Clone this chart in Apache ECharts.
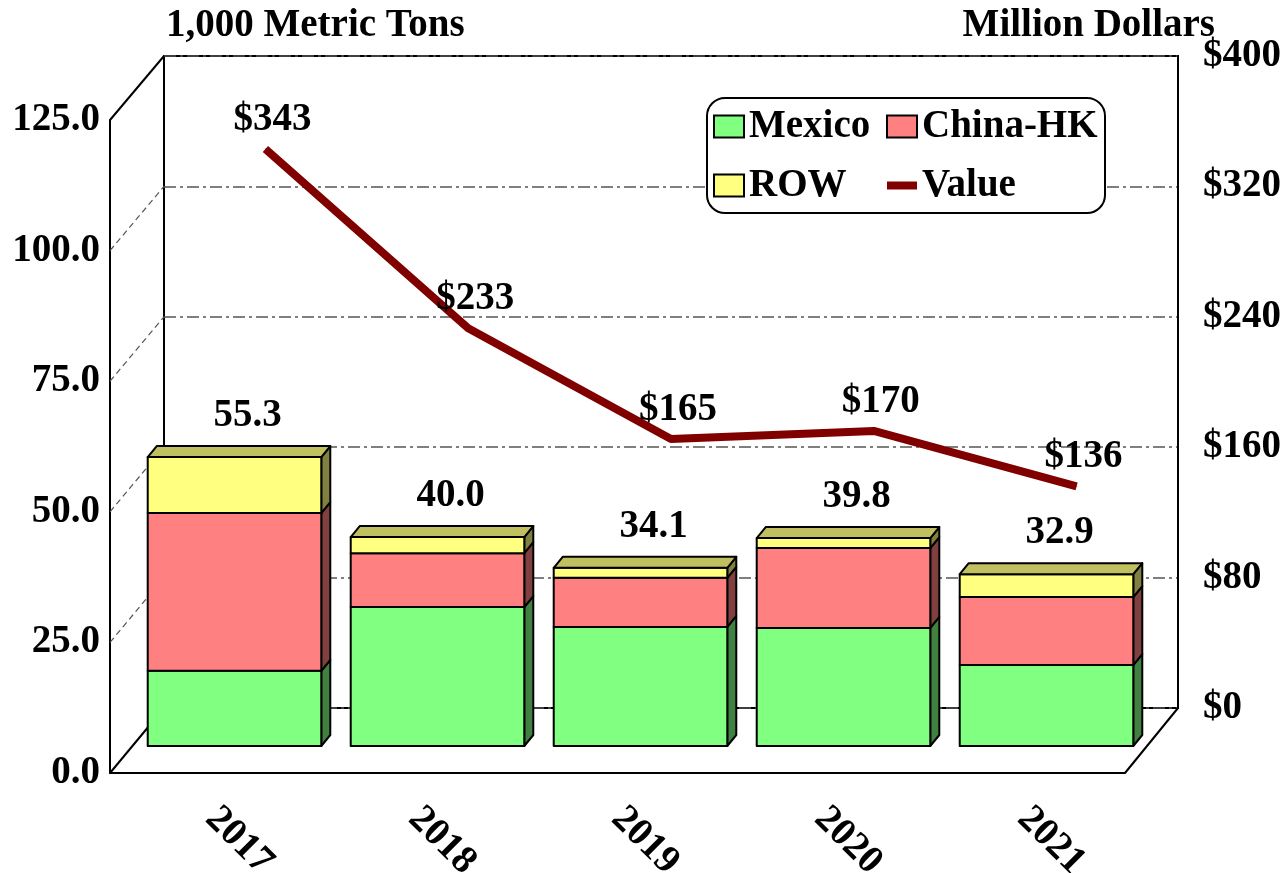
<!DOCTYPE html>
<html>
<head>
<meta charset="utf-8">
<script src="https://cdn.jsdelivr.net/npm/echarts@6/dist/echarts.min.js"></script>
<style>
    html, body { margin: 0; padding: 0; background: #fff; }
    #main { width: 1285px; height: 873px; }
</style>
</head>
<body>
<div id="main"></div>
<script>
'use strict';

// values
const years = ['2017', '2018', '2019', '2020', '2021'];
const mexico = [14.4, 26.6, 22.8, 22.6, 15.5];
const chinaHK = [30.2, 10.3, 9.4, 15.3, 13.0];
const row = [10.7, 3.1, 1.9, 1.9, 4.4];
const value = [343, 233, 165, 170, 136];
const tonTicks = [0, 25, 50, 75, 100, 125];
const dollarTicks = [0, 80, 160, 240, 320, 400];

const FONT = '"Liberation Serif", "Times New Roman", serif';
const FS = 39;
const txt = (size) => ({ fontFamily: FONT, fontWeight: 'bold', fontSize: size, color: '#000' });

// front plane (left axis) and back wall (right axis)
const FRONT = { left: 110, top: 120, width: 1015, height: 653 };
const BACK = { left: 164, top: 56, width: 1014, height: 652 };
// bars sit a bit behind the front plane, and have a small depth of their own
const PLANE = [23, -27];
const DEPTH = [9, -11];

const layers = [mexico, chinaHK, row];
const looks = [
    { name: 'Mexico', face: '#80ff80', side: '#408040', top: '#60c060' },
    { name: 'China-HK', face: '#ff8080', side: '#804040', top: '#c06060' },
    { name: 'ROW', face: '#ffff80', side: '#808040', top: '#c0c060' }
];

function stackRows(k) {
    return years.map((y, i) => {
        let lo = 0;
        for (let j = 0; j < k; j++) lo += layers[j][i];
        return [i, lo, lo + layers[k][i]];
    });
}

function boxSeries(k) {
    const lk = looks[k];
    const isTop = k === layers.length - 1;
    return {
        type: 'custom',
        name: lk.name,
        xAxisIndex: 0,
        yAxisIndex: 0,
        z: 3,
        itemStyle: { color: lk.face, borderColor: '#000', borderWidth: 2 },
        encode: { x: 0, y: [1, 2] },
        data: stackRows(k),
        renderItem: function (params, api) {
            const i = api.value(0), lo = api.value(1), hi = api.value(2);
            const a = api.coord([i, lo]), b = api.coord([i, hi]);
            const bw = api.size([1, 0])[0] * 0.855;
            const x0 = a[0] - bw / 2 + PLANE[0], x1 = x0 + bw;
            const yb = a[1] + PLANE[1], yt = b[1] + PLANE[1];
            const edge = { stroke: '#000', lineWidth: 2, lineJoin: 'round' };
            const kids = [
                {
                    type: 'polygon',
                    shape: { points: [[x1, yb], [x1 + DEPTH[0], yb + DEPTH[1]], [x1 + DEPTH[0], yt + DEPTH[1]], [x1, yt]] },
                    style: Object.assign({ fill: lk.side }, edge)
                },
                {
                    type: 'rect',
                    shape: { x: x0, y: yt, width: bw, height: yb - yt },
                    style: Object.assign({ fill: lk.face }, edge)
                }
            ];
            if (isTop) {
                kids.push({
                    type: 'polygon',
                    shape: { points: [[x0, yt], [x0 + DEPTH[0], yt + DEPTH[1]], [x1 + DEPTH[0], yt + DEPTH[1]], [x1, yt]] },
                    style: Object.assign({ fill: lk.top }, edge)
                });
                kids.push({
                    type: 'text',
                    style: {
                        text: hi.toFixed(1), x: (x0 + x1) / 2 + 13, y: yt - 41,
                        textAlign: 'center', textVerticalAlign: 'middle',
                        font: 'bold ' + FS + 'px ' + FONT, fill: '#000'
                    }
                });
            }
            return { type: 'group', children: kids };
        }
    };
}

const chart = echarts.init(document.getElementById('main'));

const legendBase = {
    orient: 'vertical',
    top: 107,
    padding: 0,
    itemWidth: 30,
    itemHeight: 22,
    itemGap: 20,
    z: 10,
    selectedMode: false,
    icon: 'rect',
    textStyle: Object.assign(txt(FS), { lineHeight: 38 }),
    itemStyle: { borderColor: '#000', borderWidth: 2 }
};

chart.setOption({
    animation: false,
    backgroundColor: '#fff',
    title: [
        { text: '1,000 Metric Tons', left: 166, top: 6, padding: 0, textStyle: txt(FS) },
        { text: 'Million Dollars', right: 70, top: 6, padding: 0, textStyle: txt(FS) }
    ],
    legend: [
        Object.assign({}, legendBase, { left: 713, data: ['Mexico', 'ROW'] }),
        Object.assign({}, legendBase, {
            left: 886,
            data: [
                { name: 'China-HK' },
                { name: 'Value', icon: 'path://M0,0L30,0L30,8L0,8Z', itemStyle: { color: '#800000', borderWidth: 0 } }
            ]
        })
    ],
    grid: [
        Object.assign({ containLabel: false, outerBoundsMode: 'none' }, FRONT),
        Object.assign({
            containLabel: false, outerBoundsMode: 'none',
            show: true, borderColor: '#000', borderWidth: 2, backgroundColor: 'transparent'
        }, BACK)
    ],
    xAxis: [
        {
            type: 'category', gridIndex: 0, data: years,
            axisLine: { lineStyle: { color: '#000', width: 2 } },
            axisTick: { show: false },
            axisLabel: Object.assign(txt(FS), { rotate: -45, margin: 40 }),
            splitLine: { show: false }
        },
        {
            type: 'category', gridIndex: 1, data: years, show: false
        }
    ],
    yAxis: [
        {
            type: 'value', gridIndex: 0, min: 0, max: 125, interval: 25,
            axisLine: { show: true, lineStyle: { color: '#000', width: 2 } },
            axisTick: { show: false },
            axisLabel: Object.assign(txt(FS), { margin: 10, formatter: (v) => v.toFixed(1) }),
            splitLine: { show: false }
        },
        {
            type: 'value', gridIndex: 1, position: 'right', min: 0, max: 400, interval: 80,
            axisLine: { show: true, lineStyle: { color: '#000', width: 2 } },
            axisTick: { show: false },
            axisLabel: Object.assign(txt(FS), { margin: 25, formatter: (v) => '$' + v }),
            splitLine: { show: true, lineStyle: { color: '#555', width: 1.5, type: [12, 4, 3, 4] } }
        }
    ],
    series: [
        boxSeries(0),
        boxSeries(1),
        boxSeries(2),
        {
            type: 'line',
            name: 'Value',
            xAxisIndex: 1,
            yAxisIndex: 1,
            data: value,
            symbol: 'circle',
            symbolSize: 1,
            showSymbol: true,
            z: 4,
            itemStyle: { color: '#800000' },
            lineStyle: { color: '#800000', width: 8 },
            label: Object.assign(txt(FS), {
                show: true, position: 'top', distance: 9, offset: [7, 0],
                formatter: (p) => '$' + p.value
            })
        }
    ]
});

// 3d frame: floor, left wall and the box behind the legend
!function () {
    const yF = (v) => chart.convertToPixel({ yAxisIndex: 0 }, v);
    const yB = (v) => chart.convertToPixel({ yAxisIndex: 1 }, v);
    const fx0 = FRONT.left, fx1 = FRONT.left + FRONT.width;
    const bx0 = BACK.left, bx1 = BACK.left + BACK.width;
    const solid = { stroke: '#000', lineWidth: 2 };
    const dashed = { stroke: '#555', lineWidth: 1.2, lineDash: [6, 4] };
    const els = [
        { type: 'line', z: 1, shape: { x1: fx0, y1: yF(tonTicks[tonTicks.length - 1]), x2: bx0, y2: yB(dollarTicks[dollarTicks.length - 1]) }, style: solid },
        { type: 'line', z: 1, shape: { x1: fx0, y1: yF(0), x2: bx0, y2: yB(0) }, style: solid },
        { type: 'line', z: 1, shape: { x1: fx1, y1: yF(0), x2: bx1, y2: yB(0) }, style: solid },
        {
            type: 'rect', z: 3,
            shape: { x: 707, y: 98, width: 398, height: 115, r: 18 },
            style: { fill: '#fff', stroke: '#000', lineWidth: 2 }
        }
    ];
    for (let i = 1; i < tonTicks.length - 1; i++) {
        els.push({
            type: 'line', z: 1,
            shape: { x1: fx0, y1: yF(tonTicks[i]), x2: bx0, y2: yB(dollarTicks[i]) },
            style: dashed
        });
    }
    chart.setOption({ graphic: els });
}();
</script>
</body>
</html>
